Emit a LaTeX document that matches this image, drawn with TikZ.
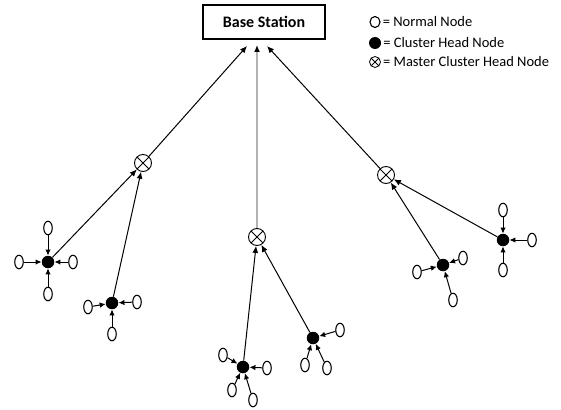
\documentclass[tikz,border=0pt]{standalone}
\usepackage{fontspec}
\setmainfont{Carlito}
\usetikzlibrary{arrows.meta, positioning, calc, shapes.geometric}

\begin{document}
\begin{tikzpicture}[
    x=1pt, y=-1pt,
    normal/.style={ellipse, draw, line width=1.1pt, minimum width=8.5pt, minimum height=13.5pt, inner sep=0pt},
    chead/.style={circle, fill=black, minimum size=12.5pt, inner sep=0pt},
    master/.style={circle, draw, line width=0.9pt, minimum size=17pt, inner sep=0pt,
        path picture={\draw[line width=0.9pt] (path picture bounding box.north west) -- (path picture bounding box.south east)
            (path picture bounding box.north east) -- (path picture bounding box.south west);}},
    link/.style={-{Latex[length=7pt, width=6pt]}, line width=1pt},
    feed/.style={-{Latex[length=6pt, width=5.5pt]}, line width=1pt},
    keytext/.style={font=\fontsize{14.5}{16}\selectfont, inner sep=1pt, anchor=west},
]
\useasboundingbox (0,0) rectangle (561,409);

% ---- Base station ----
\node[draw, line width=1.3pt, minimum width=122pt, minimum height=34pt,
    font=\fontsize{16}{18}\selectfont\bfseries] (bs) at (264,22) {Base Station};
\coordinate (inL) at (247,46);
\coordinate (inM) at (257,45);
\coordinate (inR) at (267,46);

% ---- legend ----
\node[normal, minimum width=10pt, minimum height=11pt] (keyN) at (375,22) {};
\node[keytext, right=1pt of keyN] {= Normal Node};
\node[chead, minimum size=12pt] (keyC) at (375,43) {};
\node[keytext, right=1pt of keyC] {= Cluster Head Node};
\node[master, minimum size=11pt, line width=0.8pt] (keyM) at (375,62) {};
\node[keytext, right=1pt of keyM] {= Master Cluster Head Node};

% ---- master cluster heads ----
\node[master] (mch1) at (143,163) {};
\node[master] (mch2) at (257,237) {};
\node[master] (mch3) at (386,175) {};

\draw[link] (mch1) -- (inL);
\draw[-{Latex[length=7pt, width=6pt, color=black]}, gray!60, line width=2pt] (mch2) -- (inM);
\draw[link] (mch3) -- (inR);

% ---- cluster heads ----
\node[chead] (ch1) at (48,262) {};
\node[chead] (ch2) at (112,303) {};
\node[chead] (ch3) at (243,367) {};
\node[chead] (ch4) at (313,338) {};
\node[chead] (ch5) at (443,265) {};
\node[chead] (ch6) at (503,240) {};

\foreach \c/\m in {ch1/mch1, ch2/mch1, ch3/mch2, ch4/mch2, ch5/mch3, ch6/mch3}
    \draw[link] (\c) -- (\m);

% ---- normal nodes ----
\foreach \x/\y/\h [count=\i] in {48/228/ch1, 19/262/ch1, 73/262/ch1, 48/294/ch1,
        88/307/ch2, 137/302/ch2, 112/334/ch2,
        223/355/ch3, 267/368/ch3, 232/390/ch3, 253/400/ch3,
        340/330/ch4, 305/365/ch4, 327/368/ch4,
        417/272/ch5, 463/258/ch5, 453/300/ch5,
        503/210/ch6, 532/240/ch6, 503/270/ch6} {
    \node[normal] (nn\i) at (\x,\y) {};
    \draw[feed] (nn\i) -- (\h);
}

\end{tikzpicture}
\end{document}
